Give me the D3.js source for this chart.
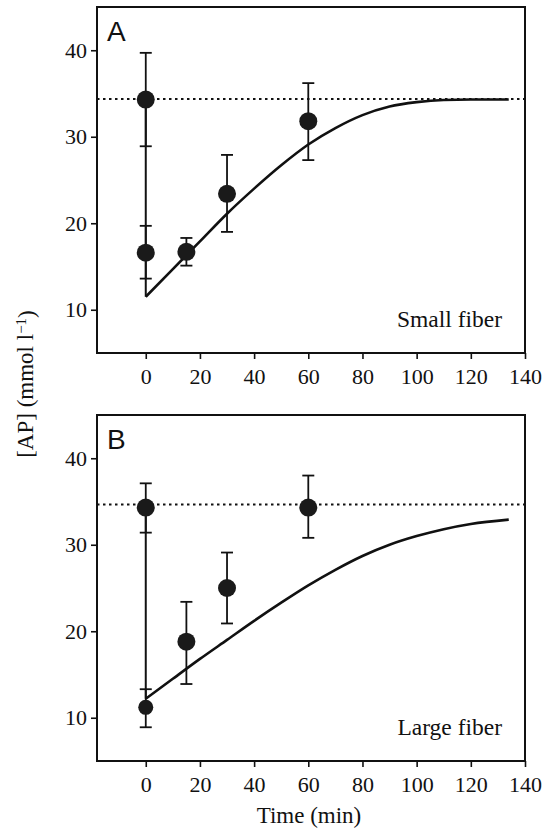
<!DOCTYPE html>
<html>
<head>
<meta charset="utf-8">
<script src="https://cdn.jsdelivr.net/npm/d3@7"></script>
<style>
  body { margin: 0; background: #fff; }
  svg { display: block; }
  .axis-title { font-family: "Liberation Serif", "Times New Roman", serif; font-size: 23px; fill: #111; }
  .note { font-family: "Liberation Serif", "Times New Roman", serif; font-size: 23.5px; fill: #111; }
  .panel-label { font-family: "Liberation Sans", Arial, sans-serif; font-size: 28px; fill: #111; }
</style>
</head>
<body>
<svg width="543" height="830"></svg>
<script>
"use strict";

// axis ticks
const timeTicks = [0, 20, 40, 60, 80, 100, 120, 140];
const apTicks = [10, 20, 30, 40];

// panel A, small fiber
const smallTime = [0, 0, 15, 30, 60];
const smallMean = [34.3, 16.6, 16.7, 23.4, 31.8];
const smallLow = [28.9, 13.6, 15.1, 19.0, 27.3];
const smallHigh = [39.7, 19.7, 18.3, 27.9, 36.2];
const smallRest = 34.35;
const smallFitTime = [0, 0, 10, 20, 30, 40, 50, 60, 70, 80, 90, 100, 110, 120, 134];
const smallFitAP = [34.3, 11.5, 14.7, 17.9, 21.1, 24.0, 26.7, 29.1, 31.0, 32.5, 33.5, 34.0, 34.25, 34.3, 34.3];

// panel B, large fiber
const largeTime = [0, 0, 15, 30, 60];
const largeMean = [34.3, 11.2, 18.8, 25.0, 34.3];
const largeLow = [31.4, 8.9, 13.9, 20.9, 30.8];
const largeHigh = [37.1, 13.3, 23.4, 29.1, 38.0];
const largeRest = 34.65;
const largeFitTime = [0, 0, 10, 20, 30, 40, 50, 60, 70, 80, 90, 100, 110, 120, 134];
const largeFitAP = [34.3, 12.2, 14.5, 16.8, 19.0, 21.2, 23.3, 25.3, 27.1, 28.7, 30.0, 31.0, 31.8, 32.4, 32.9];

const svg = d3.select("svg");

const margin = { left: 97, right: 18 };
const panelHeight = 346;
const width = +svg.attr("width");
const innerWidth = width - margin.left - margin.right;
const serif = "'Liberation Serif', 'Times New Roman', serif";

const xScale = d3.scaleLinear().domain([-18, 140]).range([0, innerWidth]);

const drawPanel = (top, p) => {
  const yScale = d3.scaleLinear().domain([5, 45]).range([panelHeight, 0]);
  const g = svg.append("g").attr("transform", `translate(${margin.left},${top})`);

  const xAxis = d3.axisBottom(xScale)
    .tickValues(timeTicks)
    .tickSize(6)
    .tickSizeOuter(0)
    .tickPadding(5)
    .tickFormat(d3.format("d"));

  const yAxis = d3.axisLeft(yScale)
    .tickValues(apTicks)
    .tickSize(6)
    .tickSizeOuter(0)
    .tickPadding(4)
    .tickFormat(d3.format("d"));

  const xAxisG = g.append("g")
    .attr("transform", `translate(0,${panelHeight})`)
    .call(xAxis)
    .attr("font-family", serif)
    .attr("font-size", 22);
  xAxisG.select(".domain").remove();
  xAxisG.selectAll(".tick text").attr("dy", "0.9em").attr("fill", "#111");
  xAxisG.selectAll(".tick line").attr("stroke", "#111").attr("stroke-width", 1.6);

  const yAxisG = g.append("g")
    .call(yAxis)
    .attr("font-family", serif)
    .attr("font-size", 22);
  yAxisG.select(".domain").remove();
  yAxisG.selectAll(".tick text").attr("fill", "#111");
  yAxisG.selectAll(".tick line").attr("stroke", "#111").attr("stroke-width", 1.6);

  // resting level
  g.append("line")
    .attr("x1", 0)
    .attr("x2", innerWidth)
    .attr("y1", yScale(p.rest))
    .attr("y2", yScale(p.rest))
    .attr("stroke", "#111")
    .attr("stroke-width", 2)
    .attr("stroke-dasharray", "2.5,3.5");

  // model fit: drop at t=0, then recovery
  const line = d3.line()
    .x(d => xScale(d[0]))
    .y(d => yScale(d[1]))
    .curve(d3.curveMonotoneX);
  const fit = p.fitTime.map((t, i) => [t, p.fitAP[i]]);
  g.append("path")
    .attr("d", d3.line().x(d => xScale(d[0])).y(d => yScale(d[1]))(fit.slice(0, 2)))
    .attr("fill", "none")
    .attr("stroke", "#111")
    .attr("stroke-width", 2);
  g.append("path")
    .attr("d", line(fit.slice(1)))
    .attr("fill", "none")
    .attr("stroke", "#111")
    .attr("stroke-width", 2.6);

  const pts = p.time.map((t, i) => ({ t, m: p.mean[i], lo: p.low[i], hi: p.high[i], i }));

  const bars = g.selectAll(".err").data(pts).enter().append("g").attr("class", "err");
  bars.append("line")
    .attr("x1", d => xScale(d.t)).attr("x2", d => xScale(d.t))
    .attr("y1", d => yScale(d.lo)).attr("y2", d => yScale(d.hi))
    .attr("stroke", "#111").attr("stroke-width", 1.8);
  [d => d.lo, d => d.hi].forEach(v => {
    bars.append("line")
      .attr("x1", d => xScale(d.t) - 6).attr("x2", d => xScale(d.t) + 6)
      .attr("y1", d => yScale(v(d))).attr("y2", d => yScale(v(d)))
      .attr("stroke", "#111").attr("stroke-width", 1.8);
  });

  g.selectAll(".dot").data(pts).enter().append("circle")
    .attr("class", "dot")
    .attr("cx", d => xScale(d.t))
    .attr("cy", d => yScale(d.m))
    .attr("r", d => (d.i === p.smallDot ? 7.5 : 9))
    .attr("fill", "#1a1a1a");

  // frame
  g.append("rect")
    .attr("width", innerWidth)
    .attr("height", panelHeight)
    .attr("fill", "none")
    .attr("stroke", "#111")
    .attr("stroke-width", 2);

  g.append("text")
    .attr("class", "panel-label")
    .attr("x", 10)
    .attr("y", 34)
    .text(p.label);

  g.append("text")
    .attr("class", "note")
    .attr("x", innerWidth - 23)
    .attr("y", panelHeight - 26)
    .attr("text-anchor", "end")
    .text(p.note);
};

drawPanel(7, {
  label: "A", note: "Small fiber",
  time: smallTime, mean: smallMean, low: smallLow, high: smallHigh,
  rest: smallRest, fitTime: smallFitTime, fitAP: smallFitAP, smallDot: -1
});

drawPanel(415, {
  label: "B", note: "Large fiber",
  time: largeTime, mean: largeMean, low: largeLow, high: largeHigh,
  rest: largeRest, fitTime: largeFitTime, fitAP: largeFitAP, smallDot: 1
});

svg.append("text")
  .attr("class", "axis-title")
  .attr("x", 309)
  .attr("y", 823)
  .attr("text-anchor", "middle")
  .text("Time (min)");

const yTitle = svg.append("text")
  .attr("class", "axis-title")
  .attr("font-size", "22px")
  .attr("transform", "translate(33,384) rotate(-90)")
  .attr("text-anchor", "middle");
yTitle.append("tspan").text("[AP] (mmol l");
yTitle.append("tspan").attr("font-size", "15px").attr("dy", "-0.5em").text("\u22121");
yTitle.append("tspan").attr("dy", "0.35em").text(")");
</script>
</body>
</html>
